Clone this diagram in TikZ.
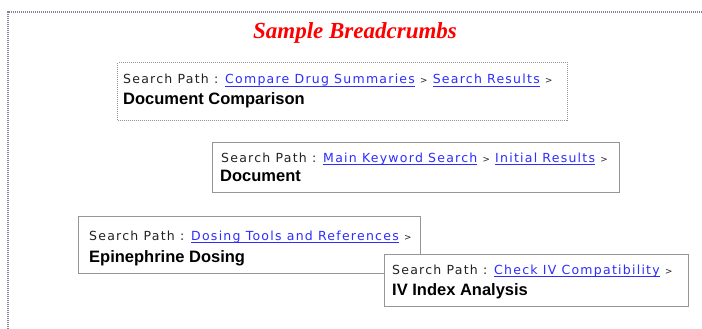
\documentclass[tikz,border=0pt]{standalone}
\usepackage{fontspec}
\newfontfamily\pathfont{DejaVu Sans}[LetterSpace=10]
\newfontfamily\headfont{Liberation Sans}
\newfontfamily\titlefont{Liberation Serif}
\definecolor{linkblue}{RGB}{45,45,255}
\definecolor{framegray}{RGB}{130,130,150}
\definecolor{boxgray}{RGB}{150,150,150}
\definecolor{pathgray}{RGB}{35,35,35}
\newlength\lnkw
\newcommand\lnk[1]{\settowidth\lnkw{#1}\textcolor{linkblue}{\rlap{\rule[-2.8pt]{\lnkw}{0.9pt}}#1}}
\newcommand\crumbsep{{\fontsize{8.8}{10}\selectfont >}}
\begin{document}
\begin{tikzpicture}[x=1pt,y=-1pt,
  pathtext/.style={anchor=base west, inner sep=0pt, font=\pathfont\fontsize{12.5}{14}\selectfont, text=pathgray},
  headtext/.style={anchor=base west, inner sep=0pt, font=\headfont\bfseries\fontsize{16.5}{19}\selectfont, text=black},
  crumbbox/.style={draw=boxgray, line width=1.2pt, fill=white, anchor=north west, inner sep=0pt},
  titletext/.style={font=\titlefont\bfseries\itshape\fontsize{23}{26}\selectfont, text=red, inner sep=0pt}]
\useasboundingbox (0,0) rectangle (702,329);
\fill[white] (0,0) rectangle (702,329);
\draw[framegray, line width=2pt, dash pattern=on 1pt off 1pt] (7.5,329) |- (702,12.5);
\node[titletext] (title) at (355,33) {Sample Breadcrumbs};
% box 1
\node[crumbbox, dash pattern=on 1pt off 1pt, minimum width=450pt, minimum height=58pt] (b1) at (117,62) {};
\node[pathtext] (p1) at (123,84) {Search Path : \lnk{Compare Drug Summaries} \crumbsep{} \lnk{Search Results} \crumbsep};
\node[headtext] (h1) at (123,105) {Document Comparison};
% box 2
\node[crumbbox, minimum width=407pt, minimum height=50pt] (b2) at (212,142) {};
\node[pathtext] (p2) at (221,162) {Search Path : \lnk{Main Keyword Search} \crumbsep{} \lnk{Initial Results} \crumbsep};
\node[headtext] (h2) at (220,181) {Document};
% box 3
\node[crumbbox, minimum width=342pt, minimum height=57pt] (b3) at (78,216) {};
\node[pathtext] (p3) at (89,240) {Search Path : \lnk{Dosing Tools and References} \crumbsep};
\node[headtext] (h3) at (89,262) {Epinephrine Dosing};
% box 4
\node[crumbbox, minimum width=304pt, minimum height=52pt] (b4) at (384,254) {};
\node[pathtext] (p4) at (392,274) {Search Path : \lnk{Check IV Compatibility} \crumbsep};
\node[headtext] (h4) at (392,295) {IV Index Analysis};
\end{tikzpicture}
\end{document}
